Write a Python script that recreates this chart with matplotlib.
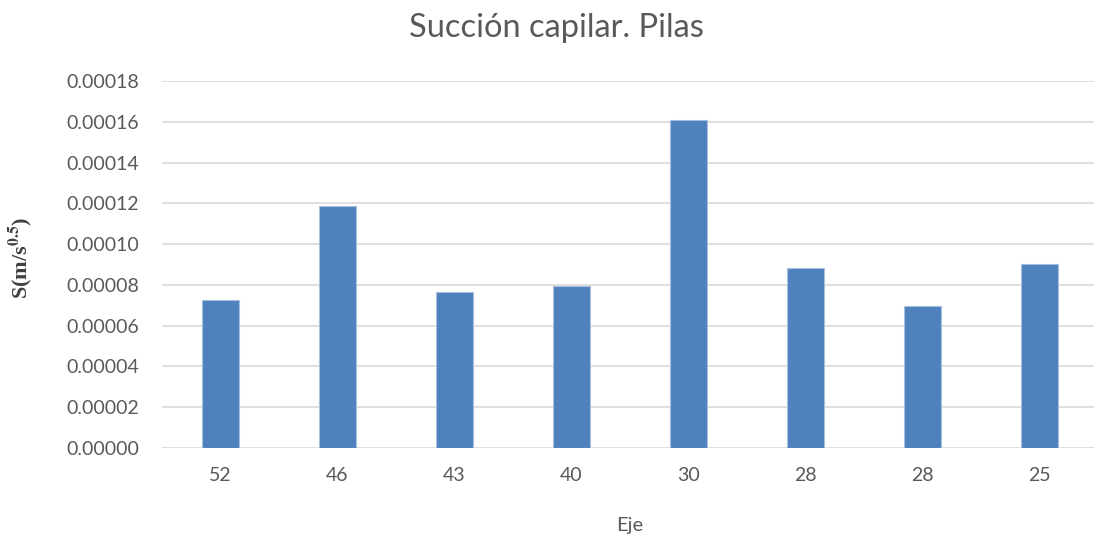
import numpy as np
import matplotlib.pyplot as plt

ejes = ['52', '46', '43', '40', '30', '28', '28', '25']
succion = [0.0000724, 0.0001185, 0.0000764, 0.0000795, 0.0001608, 0.0000881, 0.0000695, 0.0000902]
yticks = np.arange(0, 0.00018 + 1e-9, 0.00002)

plt.rcParams['font.family'] = ['Lato', 'DejaVu Sans']

fig = plt.figure(figsize=(10.94, 5.43), dpi=100)
ax = fig.add_axes([162 / 1094, 95 / 543, 936 / 1094, 367 / 543])

x = np.arange(len(ejes))
ax.bar(x, succion, width=0.31, color='#4F81BD', edgecolor='#A7BFDE', linewidth=0.8, zorder=3)

ax.set_xlim(-0.5, len(ejes) - 0.5)
ax.set_ylim(0, 0.00018)
ax.set_yticks(yticks)
ax.set_yticklabels([f'{v:.5f}' for v in yticks])
ax.set_xticks(x)
ax.set_xticklabels(ejes)

ax.grid(axis='y', color='#D9D9D9', linewidth=1.2, zorder=0)
for s in ax.spines.values():
    s.set_visible(False)
ax.tick_params(axis='both', length=0, labelsize=14, colors='#595959')
ax.tick_params(axis='y', pad=16.5)
ax.tick_params(axis='x', pad=14)

fig.text(556 / 1094, 1 - 28 / 543, 'Succión capilar. Pilas', ha='center', va='center',
         fontsize=23.5, color='#595959')
fig.text(630 / 1094, 1 - 525 / 543, 'Eje', ha='center', va='center', fontsize=14.5, color='#595959')
fig.text(20 / 1094, 1 - 258 / 543, r'S(m/s$^{\mathbf{0.5}}$)', rotation=90, ha='center', va='center',
         fontsize=16, fontweight='bold', family='Liberation Serif', color='#404040',
         math_fontfamily='stix')

fig.savefig('out.png', dpi=100)
